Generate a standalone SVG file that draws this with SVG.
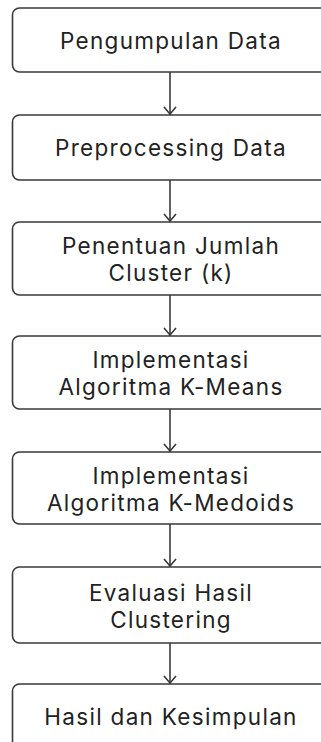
<svg xmlns="http://www.w3.org/2000/svg" width="321" height="742" viewBox="0 0 321 742">
<defs>
<style>
.box{fill:#fff;stroke:#3a3a3a;stroke-width:1.6}
.t{font-family:Inter,"Open Sans","Liberation Sans",sans-serif;font-size:22.5px;font-weight:440;letter-spacing:1.3px;fill:#222;text-anchor:middle}
.c{stroke:#3a3a3a;stroke-width:1.6;fill:none}
</style>
</defs>
<rect width="321" height="742" fill="#fff"/>
<g id="connectors">
<line class="c" x1="170" y1="72" x2="170" y2="115"/>
<path class="c" d="M164,107 L170,114 L176,107"/>
<line class="c" x1="170" y1="180" x2="170" y2="222"/>
<path class="c" d="M164,214 L170,221 L176,214"/>
<line class="c" x1="170" y1="295" x2="170" y2="336"/>
<path class="c" d="M164,328 L170,335 L176,328"/>
<line class="c" x1="170" y1="409" x2="170" y2="452"/>
<path class="c" d="M164,444 L170,451 L176,444"/>
<line class="c" x1="170" y1="524" x2="170" y2="567"/>
<path class="c" d="M164,559 L170,566 L176,559"/>
<line class="c" x1="170" y1="643" x2="170" y2="684"/>
<path class="c" d="M164,676 L170,683 L176,676"/>
</g>
<g id="n1"><rect class="box" x="12.5" y="8" width="320" height="64" rx="7"/><text class="t" x="171" y="49">Pengumpulan Data</text></g>
<g id="n2"><rect class="box" x="12.5" y="115" width="320" height="65" rx="7"/><text class="t" x="171" y="156">Preprocessing Data</text></g>
<g id="n3"><rect class="box" x="12.5" y="222" width="320" height="73" rx="7"/><text class="t" x="171" y="254">Penentuan Jumlah</text><text class="t" x="171" y="281">Cluster (k)</text></g>
<g id="n4"><rect class="box" x="12.5" y="336" width="320" height="73" rx="7"/><text class="t" x="171" y="368">Implementasi</text><text class="t" x="171" y="395">Algoritma K-Means</text></g>
<g id="n5"><rect class="box" x="12.5" y="452" width="320" height="72" rx="7"/><text class="t" x="171" y="484">Implementasi</text><text class="t" x="171" y="511">Algoritma K-Medoids</text></g>
<g id="n6"><rect class="box" x="12.5" y="567" width="320" height="76" rx="7"/><text class="t" x="171" y="601">Evaluasi Hasil</text><text class="t" x="171" y="628">Clustering</text></g>
<g id="n7"><rect class="box" x="12.5" y="684" width="320" height="66" rx="7"/><text class="t" x="171" y="725">Hasil dan Kesimpulan</text></g>
</svg>
